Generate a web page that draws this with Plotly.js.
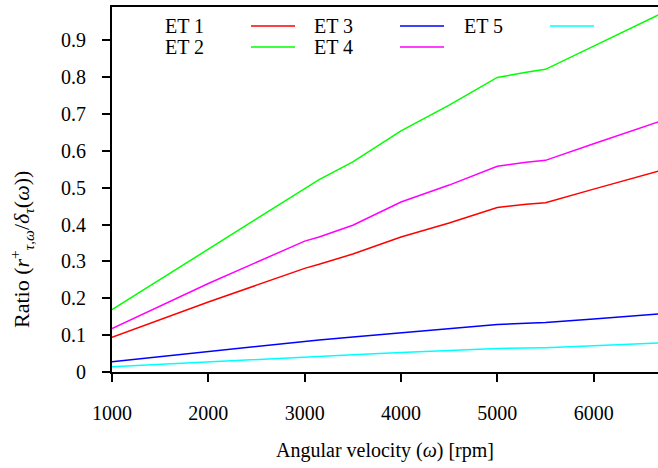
<!DOCTYPE html>
<html>
<head>
<meta charset="utf-8">
<script src="https://cdn.plot.ly/plotly-3.0.1.min.js"></script>
<style>html,body{margin:0;padding:0;background:#fff;}#chart{width:658px;height:468px;}</style>
</head>
<body>
<div id="chart"></div>
<script>
// Data
const rpm = [1000, 2000, 3000, 3150, 3500, 4000, 4500, 5000, 5300, 5500, 6000, 6700];
const et1 = [0.094, 0.190, 0.281, 0.292, 0.320, 0.366, 0.404, 0.446, 0.455, 0.459, 0.496, 0.547];
const et2 = [0.169, 0.333, 0.497, 0.522, 0.570, 0.654, 0.724, 0.799, 0.813, 0.821, 0.884, 0.972];
const et3 = [0.028, 0.056, 0.083, 0.087, 0.095, 0.107, 0.118, 0.129, 0.132, 0.134, 0.144, 0.158];
const et4 = [0.118, 0.240, 0.355, 0.366, 0.398, 0.461, 0.507, 0.558, 0.569, 0.574, 0.619, 0.681];
const et5 = [0.014, 0.028, 0.041, 0.043, 0.047, 0.053, 0.059, 0.064, 0.065, 0.066, 0.071, 0.079];
const names = ['ET 1', 'ET 2', 'ET 3', 'ET 4', 'ET 5'];
const series = [et1, et2, et3, et4, et5];
const colors = ['#ff0000', '#00ff00', '#0000ff', '#ff00ff', '#00ffff'];
const yTicks = [0, 0.1, 0.2, 0.3, 0.4, 0.5, 0.6, 0.7, 0.8, 0.9];
const xTicks = [1000, 2000, 3000, 4000, 5000, 6000];

const W = 658, H = 468;
const M = {l: 112, r: 0, t: 7, b: 96};
const pw = W - M.l - M.r, ph = H - M.t - M.b;
const px2x = p => (p - M.l) / pw;
const py2y = p => (H - M.b - p) / ph;

const FONT = 'Liberation Serif, Times New Roman, serif';

const traces = series.map((s, i) => ({
  x: rpm, y: s, type: 'scatter', mode: 'lines', name: names[i],
  line: {color: colors[i], width: 1.5}, showlegend: false, cliponaxis: true
}));

// gnuplot-style key: text followed by a line sample
const keyPos = [
  {tx: 163, sx: 251, y: 26},  // ET 1
  {tx: 163, sx: 251, y: 47},  // ET 2
  {tx: 312, sx: 400, y: 26},  // ET 3
  {tx: 312, sx: 400, y: 47},  // ET 4
  {tx: 462, sx: 550, y: 26}   // ET 5
];
const annotations = [];
const shapes = [];
names.forEach((n, i) => {
  const k = keyPos[i];
  annotations.push({text: n, xref: 'paper', yref: 'paper', x: px2x(k.tx), y: py2y(k.y),
    xanchor: 'left', yanchor: 'middle', showarrow: false, font: {family: FONT, size: 20, color: '#000'}});
  shapes.push({type: 'line', xref: 'paper', yref: 'paper', x0: px2x(k.sx), x1: px2x(k.sx + 44),
    y0: py2y(k.y), y1: py2y(k.y), line: {color: colors[i], width: 1.5}});
});
annotations.push({text: 'Angular velocity (<i>ω</i>) [rpm]', xref: 'paper', yref: 'paper',
  x: 0.5, y: py2y(450), xanchor: 'center', yanchor: 'middle', showarrow: false,
  font: {family: FONT, size: 20, color: '#000'}});
annotations.push({text: 'Ratio (<i>r</i><sup>+</sup><sub><i>τ</i>,<i>ω</i></sub>/<i>δ</i><sub><i>τ</i></sub>(<i>ω</i>))',
  xref: 'paper', yref: 'paper', x: px2x(21), y: py2y(250), xanchor: 'center', yanchor: 'middle',
  textangle: -90, showarrow: false, font: {family: FONT, size: 22, color: '#000'}});

const layout = {
  width: W, height: H, margin: M,
  paper_bgcolor: '#fff', plot_bgcolor: '#fff',
  font: {family: FONT, size: 20, color: '#000'},
  showlegend: false,
  xaxis: {range: [1000, 6668], tickvals: xTicks, ticktext: xTicks.map(String),
    showgrid: false, zeroline: false, showline: true, linecolor: '#000', linewidth: 2,
    mirror: true, ticks: 'outside', ticklen: 8, tickwidth: 2, tickcolor: '#000',
    ticklabelstandoff: 14, tickfont: {family: FONT, size: 20}},
  yaxis: {range: [0, 0.99], tickvals: yTicks, ticktext: yTicks.map(v => v === 0 ? '0' : v.toFixed(1)),
    showgrid: false, zeroline: false, showline: true, linecolor: '#000', linewidth: 2,
    ticks: 'outside', ticklen: 8, tickwidth: 2, tickcolor: '#000',
    ticklabelstandoff: 12, tickfont: {family: FONT, size: 20}},
  annotations: annotations, shapes: shapes
};
Plotly.newPlot('chart', traces, layout, {displayModeBar: false, staticPlot: true});
</script>
</body>
</html>
